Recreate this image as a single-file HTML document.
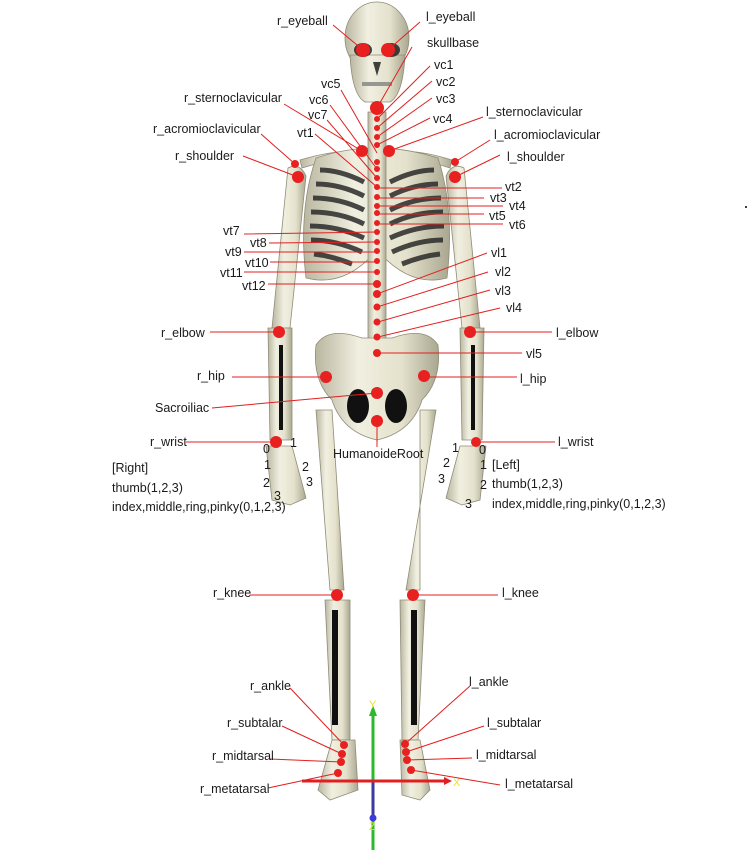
<!DOCTYPE html>
<html><head><meta charset="utf-8"><style>
html,body{margin:0;padding:0;background:#fff;}
svg{display:block;}
text{font-family:"Liberation Sans",sans-serif;font-size:12.5px;fill:#1a1a1a;}
</style></head><body>
<svg width="756" height="856" viewBox="0 0 756 856" xmlns="http://www.w3.org/2000/svg">
<defs>
<linearGradient id="bone" x1="0" x2="1"><stop offset="0" stop-color="#b9b7a0"/><stop offset="0.35" stop-color="#f1efe0"/><stop offset="0.7" stop-color="#e4e2cc"/><stop offset="1" stop-color="#a9a790"/></linearGradient>
</defs>
<g fill="url(#bone)" stroke="#8f8d78" stroke-width="0.8">
<!-- skull -->
<ellipse cx="377" cy="38" rx="32" ry="36"/>
<path d="M350 55 Q352 95 365 102 L390 102 Q403 95 405 55 Z"/>
<!-- clavicles -->
<path d="M300 160 Q340 148 370 152 L370 158 Q340 156 302 168 Z"/>
<path d="M452 160 Q414 148 384 152 L384 158 Q414 156 450 168 Z"/>
<!-- ribcage -->
<path d="M316 158 Q375 138 438 158 Q455 210 447 278 Q410 288 377 250 Q345 288 306 278 Q298 210 316 158 Z"/>
<!-- humerus -->
<path d="M288 168 Q300 162 306 176 L290 328 L272 328 Z"/>
<path d="M464 168 Q452 162 446 176 L462 328 L480 328 Z"/>
<!-- forearm -->
<path d="M268 328 L292 328 L292 440 L270 440 Z"/>
<path d="M460 328 L484 328 L482 440 L462 440 Z"/>
<!-- hands -->
<path d="M266 446 L292 446 L306 498 L290 505 L272 500 Z"/>
<path d="M486 446 L460 446 L446 498 L462 505 L480 500 Z"/>
<!-- spine -->
<rect x="368" y="112" width="18" height="250"/>
<!-- pelvis -->
<path d="M316 345 Q328 326 362 338 L392 338 Q426 326 438 345 Q442 380 422 400 Q412 432 377 440 Q342 432 332 400 Q312 380 316 345 Z"/>
<!-- femurs -->
<path d="M316 410 L332 410 L344 590 L330 590 Z"/>
<path d="M436 410 L420 410 L420 590 L406 590 Z"/>
<!-- tibia -->
<path d="M325 600 L350 600 L350 740 L332 740 Z"/>
<path d="M400 600 L425 600 L418 740 L402 740 Z"/>
<!-- feet -->
<path d="M332 740 L355 740 L358 790 L330 800 L318 790 Z"/>
<path d="M400 740 L420 740 L430 790 L420 800 L402 795 Z"/>
</g>
<g fill="#222" opacity="0.85">
<ellipse cx="363" cy="50" rx="9" ry="7"/><ellipse cx="391" cy="50" rx="9" ry="7"/>
<path d="M373 62 L381 62 L377 76Z"/>
<rect x="362" y="82" width="30" height="4" fill="#888"/>
</g>
<g fill="none" stroke="#2a2a2a" stroke-width="5" opacity="0.85">
<path d="M320 170 Q340 170 364 182"/><path d="M316 184 Q340 184 364 196"/><path d="M313 198 Q340 198 364 210"/><path d="M311 212 Q340 212 364 224"/><path d="M310 226 Q338 226 364 238"/><path d="M311 240 Q336 240 362 252"/><path d="M314 254 Q332 256 352 264"/>
<path d="M434 170 Q414 170 390 182"/><path d="M438 184 Q414 184 390 196"/><path d="M441 198 Q414 198 390 210"/><path d="M443 212 Q414 212 390 224"/><path d="M444 226 Q416 226 390 238"/><path d="M443 240 Q418 240 392 252"/><path d="M440 254 Q422 256 402 264"/>
</g>
<g fill="#111">
<ellipse cx="358" cy="406" rx="11" ry="17"/><ellipse cx="396" cy="406" rx="11" ry="17"/>
<rect x="332" y="610" width="6" height="115"/><rect x="411" y="610" width="6" height="115"/>
<rect x="279" y="345" width="4" height="85"/><rect x="471" y="345" width="4" height="85"/>
</g>
<!-- axes -->
<line x1="373" y1="714" x2="373" y2="850" stroke="#2db82d" stroke-width="3"/>
<polygon points="369,716 377,716 373,705" fill="#2db82d"/>
<line x1="373" y1="782" x2="373" y2="818" stroke="#3a3aa0" stroke-width="3"/>
<circle cx="373" cy="818" r="3.5" fill="#3a3ae0"/>
<line x1="302" y1="781" x2="446" y2="781" stroke="#e02020" stroke-width="3"/>
<polygon points="444,777 444,785 452,781" fill="#e02020"/>
<text x="369" y="708" style="fill:#e8e030;font-size:11px">Y</text>
<text x="453" y="786" style="fill:#e8e030;font-size:11px">X</text>
<text x="369" y="830" style="fill:#e8e030;font-size:11px">Z</text>
<!-- leader lines -->
<g stroke="#e02020" stroke-width="1" fill="none">
<path d="M333 25L363 50M420 22L388 50M412 47L377 108M430 66L377 119M432 81L377 128M432 98L377 137M430 118L377 145
M341 90L377 153M330 105L377 169M327 120L377 178M315 134L377 187M284 104L362 151M261 134L295 164M243 156L298 177
M483 117L389 151M490 140L455 162M500 155L455 177
M377 188H502M377 198H484M377 206H503M377 214H484M377 224H503
M244 234L377 232M269 243L377 242M244 252L377 252M270 262L377 262M244 272L377 272M268 284L377 284
M487 253L377 294M488 272L377 307M490 290L378 322M500 308L378 337M522 353L377 353
M210 332L279 332M552 332L470 332M232 377L326 377M517 377L424 377M212 408L377 393M377 421L377 447
M186 442L276 442M555 442L476 442M250 595L337 595M498 595L413 595
M290 688L344 745M282 726L342 754M270 759L341 762M268 788L338 773
M470 686L405 744M484 726L406 752M472 758L407 760M500 785L411 770"/>
</g>
<!-- dots -->
<g fill="#e82020">
<circle cx="363" cy="50" r="7"/><circle cx="388" cy="50" r="7"/><circle cx="377" cy="108" r="7"/>
<circle cx="377" cy="119" r="3"/><circle cx="377" cy="128" r="3"/><circle cx="377" cy="137" r="3"/><circle cx="377" cy="145" r="3"/>
<circle cx="362" cy="151" r="6"/><circle cx="389" cy="151" r="6"/>
<circle cx="377" cy="162" r="3"/><circle cx="377" cy="169" r="3"/><circle cx="377" cy="178" r="3"/><circle cx="377" cy="187" r="3"/><circle cx="377" cy="197" r="3"/><circle cx="377" cy="206" r="3"/><circle cx="377" cy="213" r="3"/><circle cx="377" cy="223" r="3"/><circle cx="377" cy="232" r="3"/><circle cx="377" cy="242" r="3"/><circle cx="377" cy="251" r="3"/><circle cx="377" cy="261" r="3"/><circle cx="377" cy="272" r="3"/><circle cx="377" cy="284" r="4"/><circle cx="377" cy="294" r="4"/>
<circle cx="377" cy="307" r="3.5"/><circle cx="377" cy="322" r="3.5"/><circle cx="377" cy="337" r="3.5"/><circle cx="377" cy="353" r="4"/>
<circle cx="295" cy="164" r="4"/><circle cx="298" cy="177" r="6"/><circle cx="455" cy="162" r="4"/><circle cx="455" cy="177" r="6"/>
<circle cx="279" cy="332" r="6"/><circle cx="470" cy="332" r="6"/>
<circle cx="326" cy="377" r="6"/><circle cx="424" cy="376" r="6"/><circle cx="377" cy="393" r="6"/><circle cx="377" cy="421" r="6"/>
<circle cx="276" cy="442" r="6"/><circle cx="476" cy="442" r="5"/>
<circle cx="337" cy="595" r="6"/><circle cx="413" cy="595" r="6"/>
<circle cx="344" cy="745" r="4"/><circle cx="342" cy="754" r="4"/><circle cx="341" cy="762" r="4"/><circle cx="338" cy="773" r="4"/>
<circle cx="405" cy="744" r="4"/><circle cx="406" cy="752" r="4"/><circle cx="407" cy="760" r="4"/><circle cx="411" cy="770" r="4"/>
</g>
<circle cx="746" cy="207" r="1" fill="#000"/>
<!-- labels -->
<text x="277" y="25">r_eyeball</text><text x="426" y="21">l_eyeball</text><text x="427" y="47">skullbase</text>
<text x="434" y="69">vc1</text><text x="436" y="86">vc2</text><text x="436" y="103">vc3</text><text x="433" y="123">vc4</text>
<text x="321" y="88">vc5</text><text x="309" y="104">vc6</text><text x="308" y="119">vc7</text><text x="297" y="137">vt1</text>
<text x="184" y="102">r_sternoclavicular</text><text x="153" y="133">r_acromioclavicular</text><text x="175" y="160">r_shoulder</text>
<text x="486" y="116">l_sternoclavicular</text><text x="494" y="139">l_acromioclavicular</text><text x="507" y="161">l_shoulder</text>
<text x="505" y="191">vt2</text><text x="490" y="202">vt3</text><text x="509" y="210">vt4</text><text x="489" y="220">vt5</text><text x="509" y="229">vt6</text>
<text x="223" y="235">vt7</text><text x="250" y="247">vt8</text><text x="225" y="256">vt9</text><text x="245" y="267">vt10</text><text x="220" y="277">vt11</text><text x="242" y="290">vt12</text>
<text x="491" y="257">vl1</text><text x="495" y="276">vl2</text><text x="495" y="295">vl3</text><text x="506" y="312">vl4</text><text x="526" y="358">vl5</text>
<text x="161" y="337">r_elbow</text><text x="556" y="337">l_elbow</text>
<text x="197" y="380">r_hip</text><text x="520" y="383">l_hip</text><text x="155" y="412">Sacroiliac</text><text x="333" y="458">HumanoideRoot</text>
<text x="150" y="446">r_wrist</text><text x="558" y="446">l_wrist</text>
<text x="263" y="453">0</text><text x="290" y="447">1</text><text x="264" y="469">1</text><text x="302" y="471">2</text><text x="263" y="487">2</text><text x="306" y="486">3</text><text x="274" y="500">3</text>
<text x="452" y="452">1</text><text x="479" y="454">0</text><text x="443" y="467">2</text><text x="480" y="469">1</text><text x="438" y="483">3</text><text x="480" y="489">2</text><text x="465" y="508">3</text>
<text x="112" y="472">[Right]</text><text x="112" y="492">thumb(1,2,3)</text><text x="112" y="511">index,middle,ring,pinky(0,1,2,3)</text>
<text x="492" y="469">[Left]</text><text x="492" y="488">thumb(1,2,3)</text><text x="492" y="508">index,middle,ring,pinky(0,1,2,3)</text>
<text x="213" y="597">r_knee</text><text x="502" y="597">l_knee</text>
<text x="250" y="690">r_ankle</text><text x="227" y="727">r_subtalar</text><text x="212" y="760">r_midtarsal</text><text x="200" y="793">r_metatarsal</text>
<text x="469" y="686">l_ankle</text><text x="487" y="727">l_subtalar</text><text x="476" y="759">l_midtarsal</text><text x="505" y="788">l_metatarsal</text>
</svg>
</body></html>
